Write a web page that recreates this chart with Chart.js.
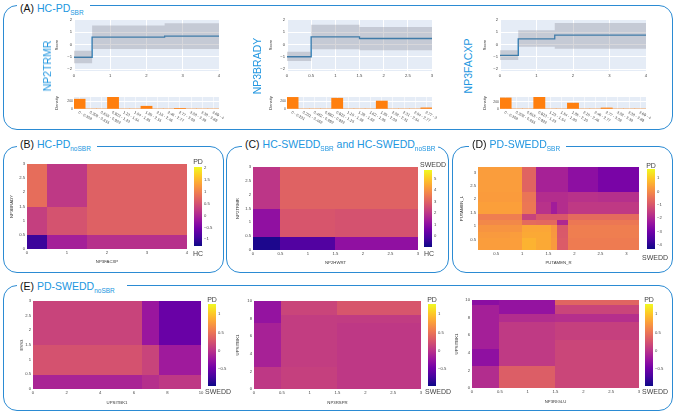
<!DOCTYPE html>
<html>
<head>
<meta charset="utf-8">
<script src="https://cdn.jsdelivr.net/npm/chart.js@4.4.1/dist/chart.umd.min.js"></script>
<style>
  body { margin: 0; background: #fff; }
  #fig { position: relative; width: 676px; height: 413px; overflow: hidden; font-family: "Liberation Sans", Arial, sans-serif; }
  canvas { position: absolute; }
  .frame { position: absolute; border: 1.5px solid #2b8bd3; border-radius: 14px; box-sizing: border-box; }
  .ttl { position: absolute; background: #fff; font-size: 10.5px; line-height: 14px; padding: 0 6px 0 3px; color: #2196e0; white-space: nowrap; }
  .ttl b { font-weight: normal; color: #111; margin-right: 3px; }
  .ttl i { font-style: normal; font-size: 6.5px; position: relative; top: 3px; }
  .big { position: absolute; color: #2196e0; font-size: 10.5px; transform: translate(-50%, -50%) rotate(-90deg); white-space: nowrap; }
  .cbl { position: absolute; color: #444; font-size: 7px; transform: translate(-50%, -50%); white-space: nowrap; }
</style>
</head>
<body>
<div id="fig">
  <div class="frame" style="left:3px;top:5px;width:670px;height:125px"></div>
  <div class="frame" style="left:3px;top:146px;width:221px;height:127px"></div>
  <div class="frame" style="left:226px;top:146px;width:223px;height:127px"></div>
  <div class="frame" style="left:452px;top:146px;width:221px;height:127px"></div>
  <div class="frame" style="left:3px;top:285px;width:670px;height:126px"></div>
</div>
<div id="labels" style="display:none">
  <div class="ttl" style="left:17px;top:1px"><b>(A)</b>HC-PD<i>SBR</i></div>
  <div class="ttl" style="left:17px;top:137px"><b>(B)</b>HC-PD<i>noSBR</i></div>
  <div class="ttl" style="left:242px;top:137px;padding-right:3px"><b>(C)</b>HC-SWEDD<i>SBR</i> and HC-SWEDD<i>noSBR</i></div>
  <div class="ttl" style="left:469px;top:137px"><b>(D)</b>PD-SWEDD<i>SBR</i></div>
  <div class="ttl" style="left:17px;top:279px;padding-right:12px"><b>(E)</b>PD-SWEDD<i>noSBR</i></div>

  <div class="big" style="left:47px;top:66px">NP2TRMR</div>
  <div class="big" style="left:257px;top:66px">NP3BRADY</div>
  <div class="big" style="left:468px;top:66px">NP3FACXP</div>

  <div class="cbl" style="left:198px;top:161px">PD</div>
  <div class="cbl" style="left:198px;top:253px">HC</div>
  <div class="cbl" style="left:433px;top:164px">SWEDD</div>
  <div class="cbl" style="left:429px;top:253px">HC</div>
  <div class="cbl" style="left:651px;top:165px">PD</div>
  <div class="cbl" style="left:655px;top:257px">SWEDD</div>
  <div class="cbl" style="left:212px;top:299px">PD</div>
  <div class="cbl" style="left:218px;top:391px">SWEDD</div>
  <div class="cbl" style="left:432px;top:299px">PD</div>
  <div class="cbl" style="left:438px;top:391px">SWEDD</div>
  <div class="cbl" style="left:649px;top:299px">PD</div>
  <div class="cbl" style="left:655px;top:391px">SWEDD</div>
</div>
<script>
// ---- (A) shape functions: step edges, score, confidence band, histogram ----
const trmrEdges = [0, 0.5, 2.5, 4];
const trmrScore = [-1.04, 0.61, 0.69];
const trmrUpper = [-0.5, 1.55, 1.73];
const trmrLower = [-1.52, -0.37, -0.37];
const trmrBins = ['0 - 0.308', '0.308 - 0.615', '0.615 - 0.923', '0.923 - 1.23', '1.23 - 1.54', '1.54 - 1.85', '1.85 - 2.15', '2.15 - 2.46', '2.46 - 2.77', '2.77 - 3.08', '3.08 - 3.38', '3.38 - 3.69', '3.69 - 4'];
const trmrDensity = [262, 0, 0, 312, 0, 0, 74, 0, 0, 8, 0, 0, 0];

const bradyEdges = [0, 0.5, 1.5, 3];
const bradyScore = [-1.0, 0.62, 0.49];
const bradyUpper = [-0.6, 1.62, 1.43];
const bradyLower = [-1.35, -0.38, -0.46];
const bradyBins = ['0 - 0.231', '0.231 - 0.462', '0.462 - 0.692', '0.692 - 0.923', '0.923 - 1.15', '1.15 - 1.38', '1.38 - 1.62', '1.62 - 1.85', '1.85 - 2.08', '2.08 - 2.31', '2.31 - 2.54', '2.54 - 2.77', '2.77 - 3'];
const bradyDensity = [310, 0, 0, 0, 288, 0, 0, 0, 212, 0, 0, 0, 30];

const facxpEdges = [0, 0.5, 1.5, 4];
const facxpScore = [-0.89, 0.46, 0.76];
const facxpUpper = [-0.46, 1.16, 1.76];
const facxpLower = [-1.27, -0.19, -0.35];
const facxpBins = ['0 - 0.308', '0.308 - 0.615', '0.615 - 0.923', '0.923 - 1.23', '1.23 - 1.54', '1.54 - 1.85', '1.85 - 2.15', '2.15 - 2.46', '2.46 - 2.77', '2.77 - 3.08', '3.08 - 3.38', '3.38 - 3.69', '3.69 - 4'];
const facxpDensity = [300, 0, 0, 318, 0, 0, 160, 0, 0, 28, 0, 0, 0];

// ---- (B) HC-PD noSBR : NP3FACXP x NP3BRADY ----
const hcpdX = [0, 0.5, 1.5, 4];
const hcpdY = [0, 0.5, 1.5, 3];
const hcpdZ = [ // rows bottom -> top
  [-0.98, -0.09, 0.11],
  [0.28, 0.51, 0.67],
  [0.80, 0.21, 0.67]
];
const hcpdRange = [-1.28, 2.03];

// ---- (C) HC-SWEDD : NP2HWRT x NP2TRMR ----
const hcswX = [0, 0.5, 1.5, 3];
const hcswY = [0, 0.5, 1.5, 3];
const hcswZ = [
  [-0.76, -0.02, 1.05],
  [1.05, 2.72, 2.65],
  [1.98, 3.0, 3.0]
];
const hcswRange = [-0.96, 5.73];

// ---- (D) PD-SWEDD SBR : PUTAMEN_R x PUTAMEN_L ----
const putX = [0.15, 0.78, 1.01, 1.28, 1.56, 1.68, 1.89, 2.46, 3.24];
const putY = [0.12, 0.57, 0.82, 1.06, 1.25, 1.49, 1.91, 2.28, 3.2];
const putZ = [
  [0.30, 0.32, 0.65, 0.50, 0.25, -0.90, -0.28, -0.28],
  [0.25, 0.30, 0.50, 0.50, 0.22, -0.95, -0.24, -0.24],
  [0.15, 0.15, 0.45, 0.45, 0.18, -0.96, -0.24, -0.24],
  [-0.06, -0.06, -0.60, -0.65, -0.65, -1.95, -0.35, -0.35],
  [-0.24, -0.24, -1.40, -0.96, -0.96, -0.96, -0.60, -0.60],
  [0.35, 0.35, -0.35, -1.75, -2.20, -1.85, -1.60, -1.60],
  [0.28, 0.28, -0.40, -1.85, -1.85, -1.85, -1.75, -1.80],
  [0.30, 0.30, -0.72, -2.10, -2.10, -2.10, -2.55, -2.87]
];
const putRange = [-4.3, 1.67];

// ---- (E) PD-SWEDD noSBR ----
const essX = [0, 6.5, 7.5, 10];
const essY = [0, 0.5, 1.5, 3];
const essZ = [
  [-0.12, -0.03, 0.04],
  [0.24, 0.13, -0.20],
  [0.13, -0.23, -0.52]
];
const rsprX = [0, 0.5, 1.5, 3];
const rsprY = [0, 2.5, 7.5, 8.5, 10];
const rsprZ = [
  [0.04, 0.10, 0.04],
  [-0.14, 0.08, 0.04],
  [-0.27, 0.08, 0.07],
  [-0.27, 0.14, 0.27]
];
const igluX = [0, 0.5, 1.5, 3];
const igluY = [0, 2.5, 4.5, 5.5, 7.5, 8.5, 9.5, 10];
const igluZ = [
  [-0.05, 0.33, 0.15],
  [-0.30, 0.05, 0.15],
  [-0.16, 0.05, 0.15],
  [-0.16, 0.05, 0.10],
  [-0.16, -0.05, -0.03],
  [-0.16, -0.27, 0.14],
  [-0.32, -0.27, 0.38]
];
const noSbrRange = [-0.97, 1.28];

// plotly "Plasma"
const PLASMA = ['#0d0887', '#46039f', '#7201a8', '#9c179e', '#bd3786', '#d8576b', '#ed7953', '#fb9f3a', '#fdca26', '#f0f921'];

Chart.defaults.animation = false;
Chart.defaults.responsive = false;
Chart.defaults.devicePixelRatio = 1;
Chart.defaults.font.family = '"Liberation Sans", Arial, sans-serif';
Chart.defaults.color = '#444';
Chart.defaults.plugins.legend.display = false;
Chart.defaults.plugins.tooltip.enabled = false;

const fig = document.getElementById('fig');
const PAD = 6;
const tickFont = { size: 4.2 };
const titleFont = { size: 4.3 };

// canvas placed so that the chart area lands on `area` = [x0, y0, x1, y1]
function makeCanvas(area, room) {
  const [x0, y0, x1, y1] = area;
  const l = room.l || 0, r = room.r || 0, b = room.b || 0, gap = room.gap || 0;
  const c = document.createElement('canvas');
  c.width = x1 - x0 + l + r + gap + 2 * PAD;
  c.height = y1 - y0 + b + 2 * PAD;
  c.style.left = (x0 - l - PAD) + 'px';
  c.style.top = (y0 - PAD) + 'px';
  fig.appendChild(c);
  return c;
}

function hex(h) { return [1, 3, 5].map(k => parseInt(h.slice(k, k + 2), 16)); }
function plasma(t) {
  t = Math.max(0, Math.min(1, t));
  const n = PLASMA.length - 1;
  const i = Math.min(Math.floor(t * n), n - 1);
  const f = t * n - i;
  const a = hex(PLASMA[i]), b = hex(PLASMA[i + 1]);
  return 'rgb(' + a.map((v, k) => Math.round(v + (b[k] - v) * f)).join(',') + ')';
}
const minus = v => String(Math.round(v * 100) / 100).replace('-', '\u2212');

function backdrop(color) {
  return {
    id: 'backdrop',
    beforeDraw(chart) {
      const { ctx, chartArea: a } = chart;
      ctx.save();
      ctx.fillStyle = color;
      ctx.fillRect(a.left, a.top, a.width, a.height);
      ctx.restore();
    }
  };
}

// heatmap cells drawn through the chart's own x / y scales
function cellLayer(xs, ys, z, range) {
  return {
    id: 'cells',
    beforeDatasetsDraw(chart) {
      const { ctx, scales: { x, y } } = chart;
      ctx.save();
      z.forEach((row, j) => row.forEach((v, i) => {
        const l = x.getPixelForValue(xs[i]), r = x.getPixelForValue(xs[i + 1]);
        const t = y.getPixelForValue(ys[j + 1]), b = y.getPixelForValue(ys[j]);
        ctx.fillStyle = plasma((v - range[0]) / (range[1] - range[0]));
        ctx.fillRect(Math.floor(l), Math.floor(t), Math.ceil(r) - Math.floor(l), Math.ceil(b) - Math.floor(t));
      }));
      ctx.restore();
    }
  };
}

function gradientFill() {
  return {
    id: 'gradient',
    beforeDatasetsDraw(chart) {
      const { ctx, chartArea: a } = chart;
      const g = ctx.createLinearGradient(0, a.bottom, 0, a.top);
      PLASMA.forEach((c, k) => g.addColorStop(k / (PLASMA.length - 1), c));
      ctx.save();
      ctx.fillStyle = g;
      ctx.fillRect(a.left, a.top, a.width, a.height);
      ctx.restore();
    }
  };
}

// plotly-like slanted category labels (30 deg, reading downwards)
const slantLabels = {
  id: 'slant',
  afterDraw(chart) {
    const { ctx, scales: { x }, chartArea } = chart;
    ctx.save();
    ctx.font = '3.8px "Liberation Sans", Arial, sans-serif';
    ctx.fillStyle = '#444';
    ctx.textBaseline = 'middle';
    chart.data.labels.forEach((lab, i) => {
      ctx.save();
      ctx.translate(x.getPixelForValue(i) - 1, chartArea.bottom + 3);
      ctx.rotate(Math.PI / 6);
      ctx.fillText(lab, 0, 0);
      ctx.restore();
    });
    ctx.restore();
  }
};

const noTicks = { display: false, drawTicks: false };

function scoreChart(area, L, edges, score, upper, lower, xMax, xStep) {
  const pts = v => edges.map((x, i) => ({ x, y: v[Math.min(i, v.length - 1)] }));
  new Chart(makeCanvas(area, { l: L, b: 10 }), {
    type: 'line',
    data: {
      datasets: [
        { data: pts(upper), stepped: true, borderWidth: 0, pointRadius: 0, fill: false },
        { data: pts(lower), stepped: true, borderWidth: 0, pointRadius: 0, fill: '-1', backgroundColor: 'rgba(135,135,145,0.33)' },
        { data: pts(score), stepped: true, borderColor: '#1f77b4', borderWidth: 1.3, pointRadius: 0, fill: false }
      ]
    },
    options: {
      layout: { padding: PAD },
      scales: {
        x: {
          type: 'linear', min: 0, max: xMax,
          ticks: { stepSize: xStep, font: tickFont, padding: 2, maxRotation: 0, autoSkip: false, callback: minus },
          grid: { color: '#fff', drawTicks: false }, border: { display: false },
          afterFit: s => { s.height = 10; }
        },
        y: {
          min: -2.16, max: 2.08,
          ticks: { stepSize: 1, includeBounds: false, font: tickFont, padding: 2, callback: minus },
          grid: { color: '#fff', drawTicks: false }, border: { display: false },
          title: { display: true, text: 'Score', font: { size: 4 }, padding: 0, color: '#333' },
          afterFit: s => { s.width = L; }
        }
      }
    },
    plugins: [backdrop('#e5ecf6')]
  });
}

function densityChart(area, L, bins, density, yMax) {
  new Chart(makeCanvas(area, { l: L, b: 22, gap: 18 }), {
    type: 'bar',
    data: { labels: bins, datasets: [{ data: density, backgroundColor: '#ff7f0e', barPercentage: 1, categoryPercentage: 1 }] },
    options: {
      layout: { padding: { top: PAD, left: PAD, bottom: PAD, right: PAD + 18 } },
      scales: {
        x: {
          ticks: { display: false },
          grid: { color: '#fff', offset: false, drawTicks: false, lineWidth: 0.6 }, border: { display: false },
          afterFit: s => { s.height = 22; }
        },
        y: {
          min: 0, max: yMax,
          ticks: { stepSize: 100, font: { size: 3.4 }, padding: 1 },
          grid: { color: '#fff', drawTicks: false }, border: { display: false },
          title: { display: true, text: 'Density', font: { size: 4 }, padding: 0, color: '#333' },
          afterFit: s => { s.width = L; }
        }
      }
    },
    plugins: [backdrop('#e5ecf6'), slantLabels]
  });
}

function heatmap(p) {
  new Chart(makeCanvas(p.area, { l: p.L, b: p.B }), {
    type: 'scatter',
    data: { datasets: [] },
    options: {
      layout: { padding: PAD },
      scales: {
        x: {
          type: 'linear', min: p.xs[0], max: p.xs[p.xs.length - 1],
          ticks: { stepSize: p.xStep, includeBounds: false, font: tickFont, padding: 1.5, maxRotation: 0, autoSkip: false, callback: minus },
          grid: noTicks, border: { display: false },
          title: { display: true, text: p.xTitle, font: titleFont, padding: 0, color: '#333' },
          afterFit: s => { s.height = p.B; }
        },
        y: {
          type: 'linear', min: p.ys[0], max: p.ys[p.ys.length - 1],
          ticks: { stepSize: p.yStep, includeBounds: false, font: tickFont, padding: 2, autoSkip: false, callback: minus },
          grid: noTicks, border: { display: false },
          title: { display: true, text: p.yTitle, font: titleFont, padding: 0, color: '#333' },
          afterFit: s => { s.width = p.L; }
        }
      }
    },
    plugins: [cellLayer(p.xs, p.ys, p.z, p.range)]
  });
}

function colorbar(area, range, step) {
  new Chart(makeCanvas(area, { r: 14 }), {
    type: 'scatter',
    data: { datasets: [] },
    options: {
      layout: { padding: PAD },
      scales: {
        x: { display: false, min: 0, max: 1 },
        y: {
          position: 'right', min: range[0], max: range[1],
          ticks: { stepSize: step, includeBounds: false, font: tickFont, padding: 2, callback: minus },
          grid: noTicks, border: { display: false },
          afterFit: s => { s.width = 14; }
        }
      }
    },
    plugins: [gradientFill()]
  });
}

// (A)
scoreChart([74, 19, 219, 71], 20, trmrEdges, trmrScore, trmrUpper, trmrLower, 4, 1);
densityChart([74, 97, 219, 109], 20, trmrBins, trmrDensity, 320);
scoreChart([287, 19, 432, 71], 19, bradyEdges, bradyScore, bradyUpper, bradyLower, 3, 0.5);
densityChart([287, 97, 432, 109], 19, bradyBins, bradyDensity, 320);
scoreChart([500, 19, 646, 71], 18, facxpEdges, facxpScore, facxpUpper, facxpLower, 4, 1);
densityChart([500, 97, 646, 109], 18, facxpBins, facxpDensity, 325);

// (B) (C) (D)
heatmap({ area: [27, 164, 187, 249], L: 18, B: 15, xs: hcpdX, ys: hcpdY, z: hcpdZ, range: hcpdRange, xStep: 1, yStep: 0.5, xTitle: 'NP3FACXP', yTitle: 'NP3BRADY' });
colorbar([194, 167, 202, 246], hcpdRange, 0.5);
heatmap({ area: [253, 167, 418, 250], L: 18, B: 15, xs: hcswX, ys: hcswY, z: hcswZ, range: hcswRange, xStep: 0.5, yStep: 0.5, xTitle: 'NP2HWRT', yTitle: 'NP2TRMR' });
colorbar([424, 170, 432, 247], hcswRange, 1);
heatmap({ area: [478, 167, 639, 250], L: 19, B: 15, xs: putX, ys: putY, z: putZ, range: putRange, xStep: 0.5, yStep: 0.5, xTitle: 'PUTAMEN_R', yTitle: 'PUTAMEN_L' });
colorbar([647, 169, 655, 249], putRange, 1);

// (E)
heatmap({ area: [33, 301, 201, 389], L: 14, B: 16, xs: essX, ys: essY, z: essZ, range: noSbrRange, xStep: 2, yStep: 0.5, xTitle: 'UPSITBK1', yTitle: 'ESS3' });
colorbar([208, 304, 216, 386], noSbrRange, 0.5);
heatmap({ area: [254, 301, 421, 389], L: 19, B: 16, xs: rsprX, ys: rsprY, z: rsprZ, range: noSbrRange, xStep: 0.5, yStep: 2, xTitle: 'NP3RSPR', yTitle: 'UPSITBK1' });
colorbar([428, 304, 436, 386], noSbrRange, 0.5);
heatmap({ area: [472, 300, 639, 388], L: 18, B: 16, xs: igluX, ys: igluY, z: igluZ, range: noSbrRange, xStep: 0.5, yStep: 2, xTitle: 'NP3RIGLU', yTitle: 'UPSITBK1' });
colorbar([645, 304, 653, 386], noSbrRange, 0.5);

// text overlays on top of the canvases
const labels = document.getElementById('labels');
while (labels.firstElementChild) fig.appendChild(labels.firstElementChild);
</script>
</body>
</html>
